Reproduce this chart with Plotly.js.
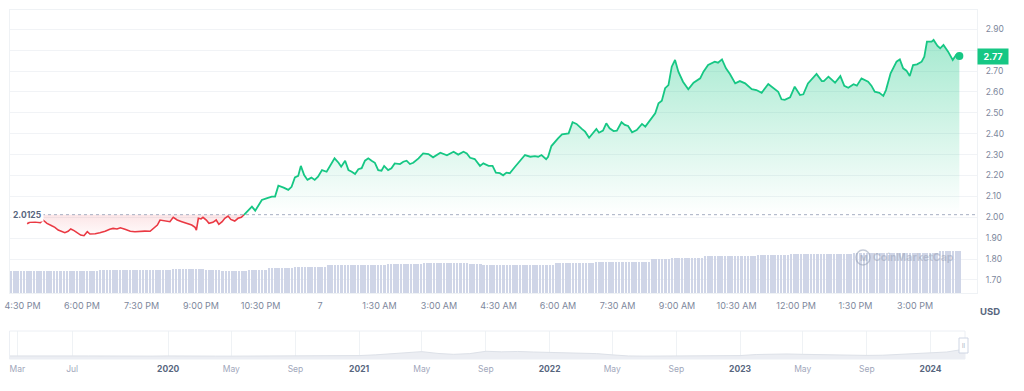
<!DOCTYPE html>
<html><head><meta charset="utf-8">
<script src="https://cdn.plot.ly/plotly-3.0.1.min.js"></script>
<style>html,body{margin:0;padding:0;background:#fff}#chart{width:1024px;height:391px}</style>
</head><body><div id="chart"></div>
<script>
// ---- price series (24h) ----
const priceTimes = [
"2024-03-06 16:37","2024-03-06 16:41","2024-03-06 16:49","2024-03-06 16:57","2024-03-06 17:01","2024-03-06 17:07","2024-03-06 17:15","2024-03-06 17:19","2024-03-06 17:24","2024-03-06 17:30",
"2024-03-06 17:34","2024-03-06 17:39","2024-03-06 17:43","2024-03-06 17:48","2024-03-06 17:52","2024-03-06 17:58","2024-03-06 18:03","2024-03-06 18:08","2024-03-06 18:12","2024-03-06 18:20",
"2024-03-06 18:27","2024-03-06 18:35","2024-03-06 18:42","2024-03-06 18:47","2024-03-06 18:53","2024-03-06 18:58","2024-03-06 19:05","2024-03-06 19:13","2024-03-06 19:20","2024-03-06 19:28",
"2024-03-06 19:35","2024-03-06 19:43","2024-03-06 19:47","2024-03-06 19:54","2024-03-06 19:58","2024-03-06 20:06","2024-03-06 20:13","2024-03-06 20:18","2024-03-06 20:24","2024-03-06 20:31",
"2024-03-06 20:39","2024-03-06 20:46","2024-03-06 20:51","2024-03-06 20:53","2024-03-06 20:56","2024-03-06 21:00","2024-03-06 21:03","2024-03-06 21:08","2024-03-06 21:12","2024-03-06 21:18",
"2024-03-06 21:23","2024-03-06 21:27","2024-03-06 21:32","2024-03-06 21:36","2024-03-06 21:41","2024-03-06 21:45","2024-03-06 21:51","2024-03-06 21:56","2024-03-06 22:01","2024-03-06 22:05",
"2024-03-06 22:17","2024-03-06 22:22","2024-03-06 22:32","2024-03-06 22:39","2024-03-06 22:47","2024-03-06 22:52","2024-03-06 22:57","2024-03-06 23:05","2024-03-06 23:12","2024-03-06 23:17",
"2024-03-06 23:22","2024-03-06 23:27","2024-03-06 23:31","2024-03-06 23:36","2024-03-06 23:41","2024-03-06 23:47","2024-03-06 23:52","2024-03-06 23:57",
"2024-03-07 00:03","2024-03-07 00:10","2024-03-07 00:15","2024-03-07 00:22","2024-03-07 00:28","2024-03-07 00:32","2024-03-07 00:38","2024-03-07 00:43","2024-03-07 00:48","2024-03-07 00:53",
"2024-03-07 00:58","2024-03-07 01:03","2024-03-07 01:08","2024-03-07 01:13","2024-03-07 01:18","2024-03-07 01:23","2024-03-07 01:28","2024-03-07 01:33","2024-03-07 01:37","2024-03-07 01:43",
"2024-03-07 01:48","2024-03-07 01:53","2024-03-07 02:01","2024-03-07 02:06","2024-03-07 02:11","2024-03-07 02:16","2024-03-07 02:21","2024-03-07 02:29","2024-03-07 02:36","2024-03-07 02:44",
"2024-03-07 02:51","2024-03-07 03:02","2024-03-07 03:12","2024-03-07 03:22","2024-03-07 03:29","2024-03-07 03:37","2024-03-07 03:42","2024-03-07 03:47","2024-03-07 03:54","2024-03-07 04:02",
"2024-03-07 04:07","2024-03-07 04:15","2024-03-07 04:21","2024-03-07 04:26","2024-03-07 04:32","2024-03-07 04:37","2024-03-07 04:42","2024-03-07 04:47","2024-03-07 04:55","2024-03-07 05:03",
"2024-03-07 05:10","2024-03-07 05:18","2024-03-07 05:25","2024-03-07 05:30","2024-03-07 05:35","2024-03-07 05:42","2024-03-07 05:45","2024-03-07 05:50","2024-03-07 05:55","2024-03-07 06:00",
"2024-03-07 06:06","2024-03-07 06:12","2024-03-07 06:16","2024-03-07 06:22","2024-03-07 06:28","2024-03-07 06:36","2024-03-07 06:41","2024-03-07 06:47","2024-03-07 06:53","2024-03-07 06:58",
"2024-03-07 07:02","2024-03-07 07:08","2024-03-07 07:13","2024-03-07 07:18","2024-03-07 07:24","2024-03-07 07:29","2024-03-07 07:36","2024-03-07 07:41","2024-03-07 07:46","2024-03-07 07:52",
"2024-03-07 07:59","2024-03-07 08:07","2024-03-07 08:12","2024-03-07 08:19","2024-03-07 08:27","2024-03-07 08:32","2024-03-07 08:37","2024-03-07 08:42","2024-03-07 08:47","2024-03-07 08:52",
"2024-03-07 08:57","2024-03-07 09:02","2024-03-07 09:09","2024-03-07 09:17","2024-03-07 09:25","2024-03-07 09:35","2024-03-07 09:40","2024-03-07 09:47","2024-03-07 09:57","2024-03-07 10:02",
"2024-03-07 10:08","2024-03-07 10:14","2024-03-07 10:20","2024-03-07 10:28","2024-03-07 10:35","2024-03-07 10:43","2024-03-07 10:53","2024-03-07 11:00","2024-03-07 11:08","2024-03-07 11:18",
"2024-03-07 11:26","2024-03-07 11:33","2024-03-07 11:38","2024-03-07 11:43","2024-03-07 11:51","2024-03-07 11:58","2024-03-07 12:06","2024-03-07 12:11","2024-03-07 12:18","2024-03-07 12:31",
"2024-03-07 12:39","2024-03-07 12:42","2024-03-07 12:49","2024-03-07 12:59","2024-03-07 13:07","2024-03-07 13:13","2024-03-07 13:19","2024-03-07 13:27","2024-03-07 13:32","2024-03-07 13:39",
"2024-03-07 13:49","2024-03-07 13:54","2024-03-07 13:59","2024-03-07 14:06","2024-03-07 14:12","2024-03-07 14:16","2024-03-07 14:23","2024-03-07 14:32","2024-03-07 14:37","2024-03-07 14:42",
"2024-03-07 14:47","2024-03-07 14:52","2024-03-07 14:57","2024-03-07 15:03","2024-03-07 15:10","2024-03-07 15:14","2024-03-07 15:18","2024-03-07 15:25","2024-03-07 15:28","2024-03-07 15:34",
"2024-03-07 15:38","2024-03-07 15:43","2024-03-07 15:50","2024-03-07 15:57","2024-03-07 16:02","2024-03-07 16:07"
];
const prices = [
1.969,1.976,1.978,1.974,1.987,1.971,1.958,1.952,1.939,1.931,
1.926,1.933,1.944,1.936,1.926,1.915,1.912,1.931,1.920,1.921,
1.926,1.933,1.943,1.947,1.944,1.950,1.943,1.933,1.931,1.933,
1.934,1.933,1.943,1.963,1.987,1.984,1.979,2.000,1.987,1.979,
1.971,1.963,1.952,1.939,1.995,1.992,2.000,1.987,1.971,1.976,
1.987,1.966,1.979,1.995,2.006,1.990,1.982,1.995,2.000,2.012,
2.051,2.032,2.083,2.091,2.099,2.099,2.151,2.142,2.131,2.146,
2.191,2.198,2.246,2.202,2.179,2.190,2.179,2.194,
2.226,2.218,2.242,2.282,2.261,2.242,2.271,2.226,2.218,2.207,
2.230,2.235,2.271,2.282,2.271,2.261,2.226,2.223,2.246,2.226,
2.235,2.258,2.255,2.266,2.271,2.255,2.261,2.282,2.306,2.303,
2.287,2.309,2.297,2.314,2.300,2.314,2.306,2.285,2.279,2.246,
2.258,2.246,2.246,2.214,2.211,2.201,2.214,2.211,2.242,2.274,
2.298,2.290,2.293,2.290,2.298,2.278,2.290,2.341,2.362,2.378,
2.397,2.402,2.402,2.455,2.447,2.423,2.410,2.381,2.405,2.423,
2.405,2.415,2.450,2.426,2.413,2.415,2.455,2.442,2.437,2.407,
2.418,2.447,2.434,2.466,2.498,2.546,2.558,2.618,2.633,2.721,
2.753,2.697,2.649,2.613,2.644,2.665,2.697,2.729,2.745,2.740,
2.756,2.713,2.686,2.641,2.652,2.641,2.613,2.609,2.596,2.638,
2.620,2.601,2.565,2.562,2.574,2.625,2.585,2.589,2.641,2.686,
2.652,2.652,2.673,2.644,2.676,2.629,2.620,2.637,2.630,2.665,
2.649,2.630,2.601,2.596,2.581,2.609,2.689,2.745,2.756,2.713,
2.702,2.676,2.729,2.732,2.745,2.769,2.841,2.841,2.849,2.820,
2.809,2.825,2.793,2.753,2.777,2.772
];
const crossIndex = 59;          // point where price returns to the 24h open
const openPrice = 2.0125;        // 24h open (dotted reference)
const lastLabel = "2.77";

// ---- volume bars (5-minute buckets) ----
const volumeStart = "2024-03-06 16:12:30";
const volumes = [
86,86,86,86,86,86,86,86,86, 86,86,86,86,86,86,86,86,86, 86,86,86,86,86,86,86,86,86,
90,90,90,90,90,90,90,90,90,90,90, 90,90,90,90,90,90,90,90,90,90,90,
94,94,94,94,94,94,94,94,94,94,
90,90,90,90,90,
86,86,86,86,86,86,86,86,
90,90,90,90,90,90,
98,98,98,98,98,98,98,98,
102,102,102,102,102,102,102,102,102,102,
107,107,107,107,107,107,
109,109,109,109,109,109,109,109,109,109,109,109,
112,112,112,112,112,112,112,112,112,112,112,
116,116,116,116,116,116,116,116,116,116,116,116,116,116,
113,113,113,113,
108,108,108,108,108,108,108,108,108,108,108,108,108,108,108,108,108,108,
110,110,110,110,
116,116,116,116,116,116,116,116,116,116,116,116,
119,119,119,119,119,119,119,119,
121,121,121,121,121,121,121,121,121,
131,131,131,131,131,131,
138,138,138,138,138,138,138,138,138,138,
145,145,145,145,145,145,145,145,145,145,145,145,145,145,145,145,
148,148,148,148,148,148,148,148,148,148,
151,151,151,151,151,151,151,151,
153,153,153,153,153,153,153,153,153,153,153,
156,156,156,156,156,156,156,156,156,156,156,156,156, 156,156,156,156,156,156,156,156,156,156,156,156,156,
163,163,163,163,163,163,163
];

// ---- navigator (multi-year history) ----
const navDates = [
"2019-03-01","2019-04-01","2019-05-01","2019-06-01","2019-07-01","2019-08-01","2019-09-01","2019-10-01","2019-11-01","2019-12-01",
"2020-01-01","2020-02-01","2020-03-01","2020-04-01","2020-05-01","2020-06-01","2020-07-01","2020-08-01","2020-09-01","2020-10-01","2020-11-01","2020-12-01",
"2021-01-01","2021-02-01","2021-03-01","2021-04-01","2021-05-01","2021-06-01","2021-07-01","2021-08-01","2021-09-01","2021-10-01","2021-11-01","2021-12-01",
"2022-01-01","2022-02-01","2022-03-01","2022-04-01","2022-05-01","2022-06-01","2022-07-01","2022-08-01","2022-09-01","2022-10-01","2022-11-01","2022-12-01",
"2023-01-01","2023-02-01","2023-03-01","2023-04-01","2023-05-01","2023-06-01","2023-07-01","2023-08-01","2023-09-01","2023-10-01","2023-11-01","2023-12-01",
"2024-01-01","2024-02-01","2024-03-07"
];
const navPrices = [
0.85,0.9,0.85,0.9,0.85,0.85,0.8,0.8,0.85,0.8,
0.85,0.9,0.75,0.8,0.8,0.8,0.85,0.9,0.85,0.85,0.9,0.9,
0.95,1.15,1.4,1.85,2.05,1.55,1.3,1.5,2.15,2.0,2.1,1.95,
1.85,1.7,1.6,1.5,1.15,0.85,0.8,0.8,0.78,0.78,0.75,0.75,
0.95,1.25,1.4,1.4,1.3,1.2,1.15,1.05,1.0,1.05,1.25,1.5,
1.65,1.95,2.77
];

// ---- tick labels ----
const priceTickVals = [1.7,1.8,1.9,2.0,2.1,2.2,2.3,2.4,2.5,2.6,2.7,2.8,2.9];
const priceTickText = ["1.70","1.80","1.90","2.00","2.10","2.20","2.30","2.40","2.50","2.60","2.70","","2.90"]; // 2.80 sits under the live-price tag
const mainTickVals = ["2024-03-06 16:30","2024-03-06 18:00","2024-03-06 19:30","2024-03-06 21:00","2024-03-06 22:30","2024-03-07 00:00","2024-03-07 01:30","2024-03-07 03:00","2024-03-07 04:30","2024-03-07 06:00","2024-03-07 07:30","2024-03-07 09:00","2024-03-07 10:30","2024-03-07 12:00","2024-03-07 13:30","2024-03-07 15:00"];
const mainTickText = ["4:30 PM","6:00 PM","7:30 PM","9:00 PM","10:30 PM","7","1:30 AM","3:00 AM","4:30 AM","6:00 AM","7:30 AM","9:00 AM","10:30 AM","12:00 PM","1:30 PM","3:00 PM"];
const navTickVals = ["2019-03-18","2019-07-01","2020-01-01","2020-05-01","2020-09-01","2021-01-01","2021-05-01","2021-09-01","2022-01-01","2022-05-01","2022-09-01","2023-01-01","2023-05-01","2023-09-01","2024-01-01"];
const navTickText = ["Mar","Jul","2020","May","Sep","2021","May","Sep","2022","May","Sep","2023","May","Sep","2024"];

// ---- build ----
function pad(n){return (n<10?"0":"")+n;}
function addMinutes(str, mins){
  const [d,t] = str.split(" ");
  const [hh,mm,ss] = t.split(":").map(Number);
  let day = Number(d.slice(8,10));
  let total = hh*3600 + mm*60 + (ss||0) + Math.round(mins*60);
  day += Math.floor(total/86400); total = total % 86400;
  const h = Math.floor(total/3600), m = Math.floor((total%3600)/60), s = total%60;
  return d.slice(0,8)+pad(day)+" "+pad(h)+":"+pad(m)+":"+pad(s);
}
const volumeTimes = volumes.map((v,i)=>addMinutes(volumeStart, i*5));

const redX = priceTimes.slice(0, crossIndex+1), redY = prices.slice(0, crossIndex+1);
const greenX = priceTimes.slice(crossIndex), greenY = prices.slice(crossIndex);
const GREEN = "#16c784", RED = "#ea3943";

const navTickTextStyled = navTickText.map(t => /^\d{4}$/.test(t) ? "<b><span style='color:#58667e'>"+t+"</span></b>" : t);

const traces = [
  {type:"bar", x:volumeTimes, y:volumes, xaxis:"x", yaxis:"y2", width:230000,
   marker:{color:"#cfd5e7", line:{width:0}}, hoverinfo:"skip"},
  {type:"scatter", mode:"lines", x:redX, y:redX.map(()=>openPrice), line:{width:0, color:"rgba(0,0,0,0)"}, hoverinfo:"skip"},
  {type:"scatter", mode:"lines", x:redX, y:redY, fill:"tonexty",
   fillgradient:{type:"vertical", colorscale:[[0,"rgba(234,57,67,0.02)"],[1,"rgba(234,57,67,0.13)"]]},
   line:{color:RED, width:1.6}, hoverinfo:"skip"},
  {type:"scatter", mode:"lines", x:greenX, y:greenX.map(()=>openPrice), line:{width:0, color:"rgba(0,0,0,0)"}, hoverinfo:"skip"},
  {type:"scatter", mode:"lines", x:greenX, y:greenY, fill:"tonexty",
   fillgradient:{type:"vertical", colorscale:[[0,"rgba(22,199,132,0.0)"],[1,"rgba(22,199,132,0.38)"]]},
   line:{color:GREEN, width:1.8}, hoverinfo:"skip"},
  {type:"scatter", mode:"markers", x:[priceTimes[priceTimes.length-1]], y:[prices[prices.length-1]],
   marker:{color:GREEN, size:8}, hoverinfo:"skip"},
  {type:"scatter", mode:"lines", x:navDates, y:navPrices, xaxis:"x2", yaxis:"y3", fill:"tozeroy",
   fillcolor:"#eceef3", line:{color:"#dde1e8", width:1}, hoverinfo:"skip"}
];

const PW = 967, PH = 350; // plotting area in px (l=10,t=10)
const px = x => (x-10)/PW, py = y => (360-y)/PH;

const layout = {
  width:1024, height:391, autosize:false,
  margin:{l:10, r:47, t:10, b:31},
  paper_bgcolor:"#ffffff", plot_bgcolor:"rgba(0,0,0,0)",
  showlegend:false, bargap:0,
  font:{family:"Inter, 'Noto Sans', sans-serif", color:"#7d879c"},
  xaxis:{type:"date", domain:[0,1], anchor:"y",
    range:["2024-03-06 16:11:06","2024-03-07 16:33:42"],
    tickmode:"array", tickvals:mainTickVals, ticktext:mainTickText,
    showgrid:false, zeroline:false, ticks:"", showline:true, mirror:true, linecolor:"#eff2f5", linewidth:1,
    tickfont:{size:9, color:"#7d879c"}, ticklabelstandoff:4},
  yaxis:{domain:[py(293),1], anchor:"x", side:"right",
    range:[1.6376, 2.9923], tickmode:"array", tickvals:priceTickVals, ticktext:priceTickText,
    gridcolor:"#f1f3f6", gridwidth:1, zeroline:false, ticks:"",
    showline:true, mirror:true, linecolor:"#eff2f5", linewidth:1,
    tickfont:{size:8.5, color:"#7d879c"}, ticklabelstandoff:6},
  yaxis2:{overlaying:"y", range:[0,1100], visible:false, fixedrange:true},
  xaxis2:{type:"date", domain:[0, px(965)], anchor:"y3",
    range:["2019-03-04","2024-03-07"],
    tickmode:"array", tickvals:navTickVals, ticktext:navTickTextStyled,
    showgrid:true, gridcolor:"#eff2f5", zeroline:false, ticks:"", showline:false,
    tickfont:{size:8.5, color:"#a1a7bb"}, ticklabelstandoff:3},
  yaxis3:{domain:[py(359), py(331)], anchor:"x2", range:[0,7.8], visible:false},
  shapes:[
    {type:"line", xref:"paper", yref:"y", x0:px(42), x1:1, y0:openPrice, y1:openPrice,
     line:{color:"#a6afc2", width:1, dash:"dot"}, layer:"above"},
    {type:"rect", xref:"paper", yref:"paper", x0:px(9.5), x1:px(965), y0:py(359), y1:py(331),
     line:{color:"#eceff4", width:1}, fillcolor:"rgba(0,0,0,0)", layer:"above"},
    {type:"rect", xref:"paper", yref:"paper", x0:px(959), x1:px(968), y0:py(353), y1:py(338),
     line:{color:"#cfd6e4", width:1}, fillcolor:"#ffffff", layer:"above"},
    {type:"circle", xref:"paper", yref:"paper", x0:px(856), x1:px(870), y0:py(265), y1:py(250),
     line:{color:"rgba(150,160,182,0.55)", width:1.5}, fillcolor:"rgba(0,0,0,0)", layer:"above"}
  ],
  annotations:[
    {xref:"paper", yref:"y", x:px(11), y:openPrice, xanchor:"left", yanchor:"middle",
     text:"<b>2.0125</b>", showarrow:false, bgcolor:"#ffffff", borderpad:1,
     font:{size:8.5, color:"#58667e"}},
    {xref:"paper", yref:"y", x:1, y:prices[prices.length-1], xanchor:"left", yanchor:"middle",
     text:"<b>"+lastLabel+"</b>", showarrow:false, bgcolor:GREEN, borderpad:1, width:28, height:13,
     font:{size:9, color:"#ffffff"}},
    {xref:"paper", yref:"paper", x:px(990), y:py(311), xanchor:"center", yanchor:"middle",
     text:"<b>USD</b>", showarrow:false, font:{size:9.5, color:"#58667e"}},
    {xref:"paper", yref:"paper", x:px(863), y:py(257.5), xanchor:"center", yanchor:"middle",
     text:"<b>M</b>", showarrow:false, font:{size:8, color:"rgba(150,160,182,0.6)"}},
    {xref:"paper", yref:"paper", x:px(913), y:py(257.5), xanchor:"center", yanchor:"middle",
     text:"<b>CoinMarketCap</b>", showarrow:false, font:{size:10.5, color:"rgba(150,160,182,0.5)"}},
    {xref:"paper", yref:"paper", x:px(963.5), y:py(345.5), xanchor:"center", yanchor:"middle",
     text:"ll", showarrow:false, font:{size:6, color:"#a6afc2"}}
  ]
};

Plotly.newPlot("chart", traces, layout, {staticPlot:true, displayModeBar:false});
</script>
</body></html>
